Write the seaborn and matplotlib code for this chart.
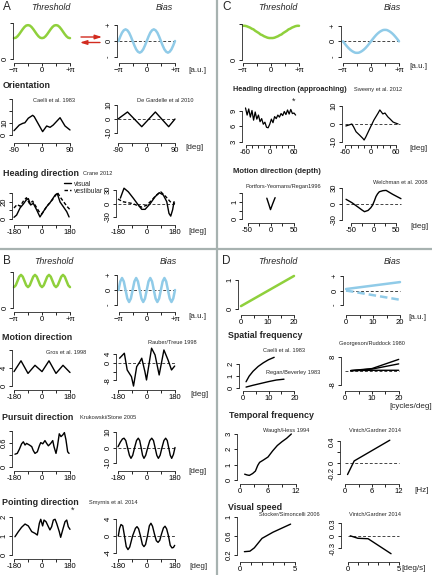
import numpy as np
import matplotlib
import matplotlib.pyplot as plt
import seaborn as sns

matplotlib.use('Agg')

W, H = 432, 575
GREEN = '#8fd03c'
BLUE = '#90cbe8'
RED = '#d22b1f'
DIVIDER = '#a7b2b0'

# model sketches, sampled every pi/16 from -pi to +pi
phase = np.arange(-16, 17) * np.pi / 16
thr_A = [0.58, 0.59, 0.63, 0.69, 0.76, 0.83, 0.89, 0.93, 0.94, 0.93, 0.89, 0.83, 0.76, 0.69, 0.63, 0.59, 0.58,
         0.59, 0.63, 0.69, 0.76, 0.83, 0.89, 0.93, 0.94, 0.93, 0.89, 0.83, 0.76, 0.69, 0.63, 0.59, 0.58]
bias_A = [0, .28, .52, .67, .73, .67, .52, .28, 0, -.28, -.52, -.67, -.73, -.67, -.52, -.28, 0,
          .28, .52, .67, .73, .67, .52, .28, 0, -.28, -.52, -.67, -.73, -.67, -.52, -.28, 0]
thr_B = [.58, .63, .75, .87, .92, .87, .75, .63, .58, .63, .75, .87, .92, .87, .75, .63, .58,
         .63, .75, .87, .92, .87, .75, .63, .58, .63, .75, .87, .92, .87, .75, .63, .58]
bias_B = [0, .57, .8, .57, 0, -.57, -.8, -.57, 0, .57, .8, .57, 0, -.57, -.8, -.57, 0,
          .57, .8, .57, 0, -.57, -.8, -.57, 0, .57, .8, .57, 0, -.57, -.8, -.57, 0]
thr_C = [.95, .95, .94, .92, .90, .87, .85, .81, .78, .75, .71, .69, .66, .64, .62, .61, .61,
         .61, .62, .64, .66, .69, .71, .75, .78, .81, .85, .87, .90, .92, .94, .95, .95]
bias_C = [0, -.15, -.29, -.42, -.53, -.62, -.69, -.74, -.75, -.74, -.69, -.62, -.53, -.42, -.29, -.15, 0,
          .15, .29, .42, .53, .62, .69, .74, .75, .74, .69, .62, .53, .42, .29, .15, 0]
lin_x = [0, 20]
thr_D = [0.1, 1.14]
bias_D_pos = [0.1, 0.58]
bias_D_neg = [0, -0.64]

# A: orientation
ori_thr_x = [-90, -73, -62, -55, -44, -30, -25, 2, 15, 26, 36, 58, 74, 90]
ori_thr = [3.6, 8.3, 9.7, 10.2, 14, 16.4, 15.3, 2.8, 7.5, 6.4, 8.3, 14.4, 7.5, 4.2]
ori_bias_x = [-90, -60, -15, 28, 70, 90]
ori_bias = [0, 5, -5.5, 5, -5.5, 0]

# A: heading direction (Crane 2012)
head_vis_x = [-180, -163, -141, -120, -103, -88, -73, -56, -34, -13, 8, 30, 51, 84, 98, 116, 137, 159, 174]
head_thr_vis = [2, 4.7, 13, 17.6, 22, 24, 16.5, 18.4, 10.6, 2.4, 8.6, 14.5, 19, 28, 30, 20, 14.5, 8.6, 2.4]
head_vest_x = [-180, -160, -140, -120, -100, -80, -60, -40, -20, 0, 20, 40, 60, 80, 100, 120, 140, 160, 180]
head_thr_vest = [13, 17, 15, 21, 25, 18, 21, 15, 9, 6, 12, 17, 21, 26, 31, 25, 20, 15, 11]
head_bias_vis_x = [-165, -142, -115, -83, -52, -30, -9, 22, 54, 81, 106, 128, 142, 153, 165, 174]
head_bias_vis = [12, 34, 26, 11.6, -3.3, -13, -13, -1, 15, 24, 19, 4, -22, -28, -14, 4]
head_bias_vest_x = [-180, -150, -120, -90, -60, -30, 0, 30, 60, 90, 120, 150, 180]
head_bias_vest = [10, 4, 2, 0, -4, -8, -4, 6, 18, 26, 16, 4, 0]

# B: motion, pursuit, pointing
motion_thr_x = [-180, -135, -90, -45, 0, 45, 90, 135, 180]
motion_thr = [3.2, 5.6, 2.8, 4.6, 3.2, 5.6, 2.8, 4.6, 3.0]
motion_bias_x = [-170, -140, -122, -95, -82, -62, -42, -30, -10, 0, 32, 54, 80, 110, 136, 158, 178]
motion_bias = [2.2, 4.5, -3.2, -6.3, -10.6, -1.7, 0.6, 2.2, -4, -7.8, 6.8, 3.7, -5.5, 6, 1.4, -3.2, -1.4]

pursuit_thr_x = [-174, -159, -146, -131, -120, -109, -99, -81, -66, -56, -45, -30, -17, -8, 5,
                 19, 30, 41, 56, 69, 77, 90, 99, 111, 122, 133, 144, 154, 165, 174]
pursuit_thr = [0.32, 0.34, 0.44, 0.58, 0.63, 0.55, 0.59, 0.55, 0.51, 0.41, 0.34, 0.38, 0.53, 0.61, 0.58,
               0.66, 0.59, 0.53, 0.59, 0.66, 0.51, 0.34, 0.51, 0.83, 0.76, 0.80, 0.86, 0.68, 0.38, 0.34]
pursuit_bias_x = [-180, -165, -152, -142, -131, -120, -108, -98, -87, -75, -63, -52, -43, -34, -25, -16, -5,
                  8, 21, 33, 44, 54, 65, 75, 86, 98, 110, 121, 131, 140, 150, 159, 170, 180]
pursuit_bias = [0.5, 3.5, 5.5, 6, 4.5, 0, -5, -7, -5, 0, 4.5, 6, 4.5, 0, -5, -7, -5,
                0, 4.5, 6, 4.5, 0, -5, -7, -5, 0, 4.5, 6, 4.5, 0, -5, -7, -4.5, 0]

pointing_thr_x = [-174, -152, -131, -109, -88, -66, -45, -30, -17, -8, 4, 13, 26, 41, 51, 62, 73,
                  84, 94, 111, 120, 133, 148, 159, 169, 180]
pointing_thr = [0.96, 1.23, 1.46, 1.63, 1.53, 1.23, 1.14, 1.05, 1.67, 1.88, 1.53, 1.84, 1.75, 1.49, 1.32,
                1.49, 1.84, 1.88, 1.67, 1.23, 0.93, 1.32, 1.75, 1.84, 1.49, 1.35]
pointing_bias_x = [-178, -170, -161, -150, -139, -128, -117, -106, -88, -70, -60, -50, -38, -26, -16, -6, 6,
                   18, 28, 38, 50, 62, 73, 84, 95, 107, 117, 127, 139, 150, 161, 170, 178]
pointing_bias = [0, 1.8, 2.7, 2.4, 0, -2.5, -3.2, -2.6, 0, 1.8, 2.2, 1.7, 0, -2, -2.5, -2, 0,
                 2.4, 3, 2.3, 0.5, -1.1, -1.5, -1, 0.5, 1.9, 2.3, 1.7, 0, -2.2, -2.8, -2.7, -2.2]

# C: heading (approaching), motion in depth
appr_thr_x = [-60, -56, -52, -48, -44, -40, -36, -32, -28, -24, -20, -16, -12, -8, -4, 0,
              4, 8, 12, 16, 20, 24, 28, 32, 36, 40, 44, 48, 52, 56, 60, 64]
appr_thr = [9.6, 8.2, 9.4, 7.8, 9.1, 7.2, 8.8, 7.4, 8.2, 6.9, 7.5, 6.4, 6.8, 5.8, 5.7, 6.4,
            7.4, 6.7, 7.9, 7.5, 8.2, 7.8, 8.5, 8.1, 8.9, 8.3, 9.2, 8.4, 9.3, 8.5, 8.6, 8.2]
appr_bias_x = [-58, -50, -44, -40, -34, -26, -18, -15, -11, -1, 8, 18, 22, 29, 34, 41, 46, 53, 58, 65]
appr_bias = [-1.1, -0.5, 0, -1.5, -4.3, -6.1, -8, -8.9, -7.2, -2.2, 2.2, 6.1, 7.8, 5.6, 6.1, 3.9, 2.8, 1.1, 0.6, 0]
depth_thr_x = [-8, -4, 0, 5, 10]
depth_thr = [1.2, 0.88, 0.55, 0.9, 1.23]
depth_bias_x = [-61, -48, -34, -26, -20, -12, -6, -2, 2, 5.5, 9, 13, 21, 28, 35, 43, 52, 61]
depth_bias = [8.8, 2.5, -6, -11, -14.4, -12, -7, -2, 6, 14, 19, 23, 25, 25.5, 22, 18, 14, 10]

# D: spatial / temporal frequency, speed
sf_caelli_x = [1.3, 2.5, 4, 6, 8, 10, 12.2]
sf_caelli = [0.54, 1.0, 1.4, 1.8, 2.1, 2.35, 2.55]
sf_regan_x = [1.3, 4, 7, 10, 13, 16]
sf_regan = [0.1, 0.25, 0.4, 0.55, 0.68, 0.75]
sf_bias_x = [2, 10, 20]
sf_bias_hi = [0.3, 1.5, 6.8]
sf_bias_mid = [0.3, 1.2, 4.2]
sf_bias_lo = [0.3, 0.5, 0.5]
tf_thr_x = [1, 1.5, 2, 2.7, 3.3, 3.8, 4.2, 5, 6, 7, 8, 9, 10, 11]
tf_thr = [0.38, 0.33, 0.3, 0.42, 0.58, 0.95, 1.15, 1.3, 1.5, 1.9, 2.25, 2.5, 2.72, 3.0]
tf_bias_x = [0.5, 2, 10]
tf_bias = [-0.21, 0.04, 0.42]
vs_thr_x = [0.4, 0.9, 1.3, 2, 3, 4.6]
vs_thr = [0.27, 0.28, 0.35, 0.55, 0.68, 0.85]
vs_bias_x = [0.25, 1, 2, 4.25]
vs_bias = [0, -0.06, -0.07, -0.43]

PI_T = [-np.pi, -np.pi / 2, 0, np.pi / 2, np.pi]
PI_L = ['\u2212\u03c0', '', '0', '', '+\u03c0']
DEG_T = [-180, -90, 0, 90, 180]
DEG_L = ['-180', '', '0', '', '180']
PM_L = ['-', '0', '+']

sns.set_theme(style='ticks')
plt.rcParams['font.family'] = ['Liberation Sans', 'DejaVu Sans']
plt.rcParams['axes.linewidth'] = 0.6

fig = plt.figure(figsize=(W / 100, H / 100), dpi=100)
fig.patch.set_facecolor('white')
over = fig.add_axes([0, 0, 1, 1])
over.set_xlim(0, W)
over.set_ylim(H, 0)
over.axis('off')


def panel(xr, xp, yr, yp, xaxis_y, yaxis_x, xt, xl, yt, yl):
    # xp/yp: pixel positions of the two reference values in xr/yr
    ax = fig.add_axes([xp[0] / W, 1 - yp[0] / H, (xp[1] - xp[0]) / W, (yp[0] - yp[1]) / H])
    ax.set_xlim(*xr)
    ax.set_ylim(*yr)
    ax.patch.set_visible(False)
    ax.spines['top'].set_visible(False)
    ax.spines['right'].set_visible(False)
    ax.spines['left'].set_position(('outward', (xp[0] - yaxis_x) * 0.72))
    ax.spines['bottom'].set_position(('outward', (xaxis_y - yp[0]) * 0.72))
    ax.set_xticks(xt)
    ax.set_xticklabels(xl)
    ax.set_yticks(yt)
    ax.set_yticklabels(yl, rotation=90, va='center')
    ax.spines['bottom'].set_bounds(xt[0], xt[-1])
    ax.spines['left'].set_bounds(yt[0], yt[-1])
    ax.tick_params(length=2, width=0.6, pad=1, labelsize=5.5, colors='black', direction='out')
    return ax


def curve(ax, x, y, color='black', lw=1.0, ls='-', label=None):
    sns.lineplot(x=x, y=y, ax=ax, color=color, lw=lw, linestyle=ls, estimator=None,
                 sort=False, clip_on=False, label=label, legend=False)


def zero(ax, x0=0.0, x1=1.0):
    ax.axhline(0, xmin=x0, xmax=x1, color='#444444', lw=0.7, ls=(0, (3, 2)), clip_on=False, zorder=1)


def txt(x, y, s, size, **kw):
    kw.setdefault('ha', 'left')
    over.text(x, y, s, fontsize=size, va='center', **kw)


def cite(x, y, s):
    txt(x, y, s, 4.1)


def title(x, y, s, size=6.4):
    txt(x, y, s, size, fontweight='bold')


# ---------- dividers ----------
over.axvline(217, color=DIVIDER, lw=1.6)
over.plot([0, 216], [249, 249], color=DIVIDER, lw=1.6)
over.plot([218, W], [249, 249], color=DIVIDER, lw=1.6)

# ---------- A ----------
txt(3, 7.5, 'A', 8.5)
txt(50.7, 7.5, 'Threshold', 6.4, ha='center', style='italic')
txt(164, 7.5, 'Bias', 6.4, ha='center', style='italic')
ax = panel((-np.pi, np.pi), (14, 70), (0, 1), (59, 23), 62.5, 12.5, PI_T, PI_L, [0, 1], ['0', ''])
curve(ax, phase, thr_A, GREEN, 1.8)
ax = panel((-np.pi, np.pi), (118.5, 175), (-1, 1), (57, 25), 62.5, 116.5, PI_T, PI_L, [-1, 0, 1], PM_L)
zero(ax)
curve(ax, phase, bias_A, BLUE, 1.8)
txt(188, 70, '[a.u.]', 5.8)
arrow = dict(arrowstyle='-|>,head_length=0.5,head_width=0.16', color=RED, lw=1.0,
             shrinkA=0, shrinkB=0, mutation_scale=8)
over.annotate('', xy=(102, 37), xytext=(81, 37), arrowprops=arrow)
over.annotate('', xy=(80, 42.5), xytext=(100, 42.5), arrowprops=arrow)

title(3, 86, 'Orientation')
ax = panel((-90, 90), (14, 70), (0, 30), (135, 99), 143, 12.3, [-90, -45, 0, 45, 90],
           ['-90', '', '0', '', '90'], [0, 10, 20, 30], ['0', '10', '', ''])
curve(ax, ori_thr_x, ori_thr)
cite(33, 100, 'Caelli et al. 1983')
ax = panel((-90, 90), (118, 175), (-10, 10), (133, 105), 143, 116.5, [-90, -45, 0, 45, 90],
           ['-90', '', '0', '', '90'], [-10, 0, 10], ['-10', '0', '10'])
zero(ax)
curve(ax, ori_bias_x, ori_bias)
cite(137, 100, 'De Gardelle et al 2010')
txt(185, 147.3, '[deg]', 5.8)

title(3, 173, 'Heading direction')
cite(83, 173.5, 'Crane 2012')
ax = panel((-180, 180), (14, 70), (0, 30), (219, 193.5), 225, 12, DEG_T, DEG_L,
           [0, 10, 20, 30], ['0', '', '20', ''])
curve(ax, head_vis_x, head_thr_vis, label='visual')
curve(ax, head_vest_x, head_thr_vest, ls=(0, (2.5, 1.5)), label='vestibular')
ax.legend(loc='upper left', bbox_to_anchor=(64 / W, 1 - 180.5 / H), bbox_transform=fig.transFigure,
          frameon=False, fontsize=4.9, handlelength=1.1, handletextpad=0.4, labelspacing=0.05,
          borderaxespad=0, borderpad=0)
ax = panel((-180, 180), (118, 175), (-30, 30), (217, 190), 225, 116, DEG_T, DEG_L,
           [-30, 0, 30], ['-30', '0', '30'])
zero(ax)
curve(ax, head_bias_vis_x, head_bias_vis)
curve(ax, head_bias_vest_x, head_bias_vest, ls=(0, (2.5, 1.5)))
txt(188, 231.7, '[deg]', 5.8)

# ---------- B ----------
txt(3, 261.5, 'B', 8.5)
txt(54, 261.7, 'Threshold', 6.4, ha='center', style='italic')
txt(168, 261.7, 'Bias', 6.4, ha='center', style='italic')
ax = panel((-np.pi, np.pi), (14, 70), (0, 1), (308, 272), 312, 12.5, PI_T, PI_L, [0, 1], ['0', ''])
curve(ax, phase, thr_B, GREEN, 1.8)
ax = panel((-np.pi, np.pi), (118.5, 175), (-1, 1), (305, 275), 312, 116.5, PI_T, PI_L, [-1, 0, 1], PM_L)
zero(ax)
curve(ax, phase, bias_B, BLUE, 1.8)
txt(188, 316.7, '[a.u.]', 5.8)

title(2, 337, 'Motion direction')
ax = panel((-180, 180), (14, 70), (0, 8), (386, 350), 389.5, 12, DEG_T, DEG_L, [0, 4, 8], ['0', '4', ''])
curve(ax, motion_thr_x, motion_thr)
cite(46, 352.7, 'Gros et al. 1998')
ax = panel((-180, 180), (118, 175), (-8, 4), (380.4, 354.3), 389.5, 116, DEG_T, DEG_L,
           [-8, -4, 0, 4], ['-8', '', '0', '4'])
zero(ax)
curve(ax, motion_bias_x, motion_bias)
cite(148, 342.7, 'Rauber/Treue 1998')
txt(190, 394.3, '[deg]', 5.8)

title(2, 417.5, 'Pursuit direction')
cite(80, 417.7, 'Krukowski/Stone 2005')
ax = panel((-180, 180), (14, 70), (0, 0.9), (467, 431), 470.5, 12, DEG_T, DEG_L,
           [0, 0.3, 0.6, 0.9], ['0', '', '0.6', ''])
curve(ax, pursuit_thr_x, pursuit_thr)
ax = panel((-180, 180), (118, 175), (-10, 10), (463, 432), 470.5, 116, DEG_T, DEG_L,
           [-10, 0, 10], ['-10', '0', '10'])
zero(ax)
curve(ax, pursuit_bias_x, pursuit_bias)
txt(188, 471.7, '[deg]', 5.8)

title(2, 502.7, 'Pointing direction')
cite(89, 502.7, 'Smyrnis et al. 2014')
ax = panel((-180, 180), (14, 70), (0, 2), (555, 517), 558.5, 12, DEG_T, DEG_L, [0, 1, 2], ['0', '1', '2'])
curve(ax, pointing_thr_x, pointing_thr)
txt(73, 510.5, '*', 6.5, ha='center')
ax = panel((-180, 180), (118, 175), (-4, 4), (553, 519), 558.5, 116, DEG_T, DEG_L,
           [-4, 0, 4], ['-4', '0', '4'])
zero(ax)
curve(ax, pointing_bias_x, pointing_bias)
txt(189, 566.7, '[deg]', 5.8)

# ---------- C ----------
txt(222, 7.5, 'C', 8.5)
txt(277.7, 7.5, 'Threshold', 6.4, ha='center', style='italic')
txt(392, 7.5, 'Bias', 6.4, ha='center', style='italic')
ax = panel((-np.pi, np.pi), (243, 299), (0, 1), (60, 24), 63, 241.5, PI_T, PI_L, [0, 1], ['0', ''])
curve(ax, phase, thr_C, GREEN, 1.8)
ax = panel((-np.pi, np.pi), (343, 399), (-1, 1), (56.7, 26), 63, 341, PI_T, PI_L, [-1, 0, 1], PM_L)
zero(ax)
curve(ax, phase, bias_C, BLUE, 1.8)
txt(409, 66.7, '[a.u.]', 5.8)

HD_T = [-60, -45, -30, -15, 0, 15, 30, 45, 60]
HD_L = ['-60', '', '', '', '0', '', '', '', '60']
title(233, 89.3, 'Heading direction (approaching)', 5.3)
cite(353.5, 89.5, 'Sweeny et al. 2012')
ax = panel((-60, 60), (245.5, 294), (3, 9), (141.5, 111), 144.5, 241.5, HD_T, HD_L, [3, 6, 9], ['3', '6', '9'])
curve(ax, appr_thr_x, appr_thr, lw=0.9)
txt(294, 101, '*', 6.5, ha='center')
ax = panel((-60, 60), (345, 396), (-10, 10), (142, 106), 144.5, 341.5, HD_T, HD_L,
           [-10, 0, 10], ['-10', '0', '10'])
zero(ax, 0, 1.08)
curve(ax, appr_bias_x, appr_bias, lw=0.9)
txt(409, 148.3, '[deg]', 5.8)

DP_T = [-50, -25, 0, 25, 50]
DP_L = ['-50', '', '0', '', '50']
title(233, 171.7, 'Motion direction (depth)', 5.5)
ax = panel((-50, 50), (247.5, 293.5), (0, 1.5), (219.3, 192.9), 223, 242.5, DP_T, DP_L,
           [0, 0.5, 1, 1.5], ['0', '', '1', ''])
curve(ax, depth_thr_x, depth_thr)
cite(246, 186.7, 'Portfors-Yeomans/Regan1996')
ax = panel((-50, 50), (351, 396), (-30, 30), (220, 188), 223, 342, DP_T, DP_L,
           [-30, 0, 30], ['-30', '0', '30'])
zero(ax, -0.12, 1.1)
curve(ax, depth_bias_x, depth_bias)
cite(373, 182.7, 'Welchman et al. 2008')
txt(410, 226, '[deg]', 5.8)

# ---------- D ----------
txt(222, 261.5, 'D', 8.5)
txt(277.7, 261.7, 'Threshold', 6.4, ha='center', style='italic')
txt(392, 261.7, 'Bias', 6.4, ha='center', style='italic')
SF_T = [0, 5, 10, 15, 20]
SF_L = ['0', '', '10', '', '20']
ax = panel((0, 20), (241, 294), (0, 1), (309, 280), 314.5, 238, SF_T, SF_L, [0, 1], ['0', '1'])
curve(ax, lin_x, thr_D, GREEN, 1.8)
ax = panel((0, 20), (346, 400), (-1, 1), (305, 276), 314.5, 342.5, SF_T, SF_L, [-1, 0, 1], PM_L)
zero(ax)
curve(ax, lin_x, bias_D_pos, BLUE, 1.8)
curve(ax, lin_x, bias_D_neg, BLUE, 1.8, ls=(0, (3, 1.6)))
txt(408, 317.3, '[a.u.]', 5.8)

title(228, 336, 'Spatial frequency')
ax = panel((0, 20), (242.7, 294.3), (0, 2), (388.3, 364), 391, 238.5, SF_T, SF_L, [0, 1, 2], ['0', '1', '2'])
curve(ax, sf_caelli_x, sf_caelli)
curve(ax, sf_regan_x, sf_regan)
cite(262.7, 350, 'Caelli et al. 1983')
cite(266, 372.3, 'Regan/Beverley 1983')
ax = panel((0, 20), (345.3, 398.7), (-8, 8), (385, 357.3), 391, 341, SF_T, SF_L, [-8, 8], ['-8', '8'])
zero(ax)
curve(ax, sf_bias_x, sf_bias_hi)
curve(ax, sf_bias_x, sf_bias_mid)
curve(ax, sf_bias_x, sf_bias_lo)
cite(339, 343.3, 'Georgeson/Ruddock 1980')
txt(389, 406.7, '[cycles/deg]', 5.8)

TF_T = [0, 3, 6, 9, 12]
TF_L = ['0', '', '6', '', '12']
title(229, 416, 'Temporal frequency')
ax = panel((0, 12), (240, 296), (0, 3), (480, 434), 483.5, 236.5, TF_T, TF_L,
           [0, 1, 2, 3], ['0', '1', '2', '3'])
curve(ax, tf_thr_x, tf_thr)
cite(262.7, 430.7, 'Waugh/Hess 1994')
ax = panel((0, 12), (345.3, 398.7), (-0.2, 0.4), (474, 441.3), 483.5, 340, TF_T, TF_L,
           [-0.2, 0, 0.2, 0.4], ['-0.2', '0', '', '0.4'])
zero(ax)
curve(ax, tf_bias_x, tf_bias)
cite(349, 430.7, 'Vintch/Gardner 2014')
txt(414, 490, '[Hz]', 5.8)

VS_T = [0, 1, 2, 3, 4, 5]
VS_L = ['0', '', '', '', '', '5']
title(228, 507.3, 'Visual speed')
ax = panel((0, 5), (240, 295), (0.2, 1), (555, 517), 562, 236.5, VS_T, VS_L,
           [0.2, 0.6, 1], ['0.2', '0.6', '1'])
curve(ax, vs_thr_x, vs_thr)
cite(259, 514, 'Stocker/Simoncelli 2006')
ax = panel((0, 5), (347.7, 398.7), (-0.3, 0.3), (548.3, 523.3), 562, 341, VS_T, VS_L,
           [-0.3, 0, 0.3], ['-0.3', '0', '0.3'])
zero(ax)
curve(ax, vs_bias_x, vs_bias)
cite(349, 515, 'Vintch/Gardner 2014')
txt(401, 568.3, '[deg/s]', 5.8)

fig.savefig('out.png', dpi=100, facecolor='white')
